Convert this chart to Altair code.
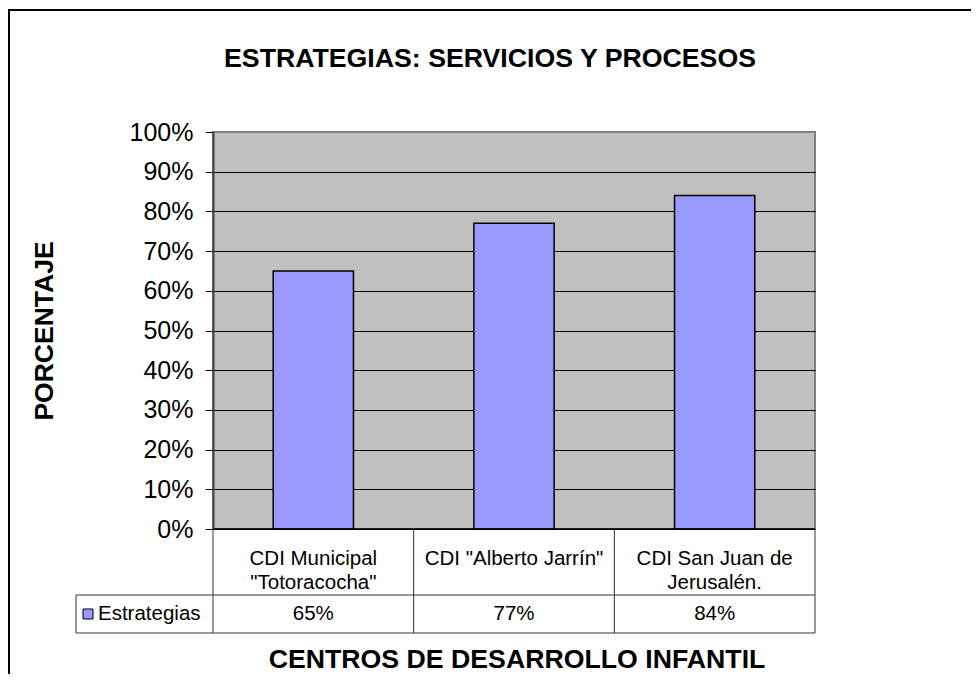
import altair as alt
import pandas as pd

# ---------------- data ----------------
categories = ['CDI Municipal\n"Totoracocha"', 'CDI "Alberto Jarrín"', 'CDI San Juan de\nJerusalén.']
values = [0.65, 0.77, 0.84]
series_name = "Estrategias"
y_ticks = [0.0, 0.1, 0.2, 0.3, 0.4, 0.5, 0.6, 0.7, 0.8, 0.9, 1.0]

title_text = "ESTRATEGIAS: SERVICIOS Y PROCESOS"
x_title = "CENTROS DE DESARROLLO INFANTIL"
y_title = "PORCENTAJE"

# ---------------- style / layout ----------------
FONT = "Liberation Sans"
BAR = "#9999FF"
LINE = "#333333"
W, H = 602, 397
ROW1_TOP, ROW1_BOT, ROW2_BOT = H, H + 66, H + 104
LEG_LEFT = -137

df = pd.DataFrame({"cat": categories, "value": values})
one = pd.DataFrame({"k": [0]})
base = alt.Chart(df)

xscale = alt.Scale(paddingInner=0, paddingOuter=0)
xenc = alt.X("cat:N", sort=categories, axis=None, scale=xscale)

yenc = alt.Y(
    "value:Q",
    scale=alt.Scale(domain=[0, 1], nice=False, zero=True),
    axis=alt.Axis(
        values=y_ticks, format=".0%", grid=True,
        gridColor={"condition": {"test": "datum.value >= 1", "value": "#808080"}, "value": "black"},
        gridWidth=1,
        domainColor="#404040", domainWidth=2,
        tickColor="black", tickSize=8, tickWidth=1,
        labelFont=FONT, labelFontSize=25, labelColor="black", labelPadding=12,
        title=y_title, titleFont=FONT, titleFontSize=26.5, titleFontWeight="bold",
        titleColor="black", titleAngle=270, titleX=-161, titleY=H / 2,
        titleAlign="center", titleBaseline="alphabetic",
    ),
)


def rule(x1, x2, y1, y2, color=LINE, w=1):
    return alt.Chart(one).mark_rule(color=color, strokeWidth=w).encode(
        x=alt.value(x1), x2=alt.value(x2), y=alt.value(y1), y2=alt.value(y2)
    )


frame = alt.Chart(one).mark_rect(filled=False, stroke="black", strokeWidth=2).encode(
    x=alt.value(-204), x2=alt.value(800), y=alt.value(-122), y2=alt.value(620)
)

bars = base.mark_bar(
    fill=BAR, stroke="black", strokeWidth=1.5, width=alt.RelativeBandSize(0.4)
).encode(x=xenc, y=yenc)

# table grid
vlines = base.mark_rule(color=LINE, strokeWidth=1).encode(
    x=alt.X("cat:N", sort=categories, axis=None, scale=xscale, bandPosition=0),
    y=alt.value(ROW1_TOP), y2=alt.value(ROW2_BOT),
)
table_rules = [
    rule(0, W, ROW1_TOP, ROW1_TOP, color="black", w=1.5),
    rule(LEG_LEFT, W, ROW1_BOT, ROW1_BOT),
    rule(LEG_LEFT, W, ROW2_BOT, ROW2_BOT),
    rule(W, W, ROW1_TOP, ROW2_BOT),
    rule(LEG_LEFT, LEG_LEFT, ROW1_BOT, ROW2_BOT),
]

cat_text = base.mark_text(
    font=FONT, fontSize=20.5, lineBreak="\n", lineHeight=24, baseline="middle", color="black"
).encode(x=xenc, y=alt.value(427), text="cat:N")

val_text = base.mark_text(
    font=FONT, fontSize=20.5, baseline="middle", color="black"
).encode(x=xenc, y=alt.value(482), text=alt.Text("value:Q", format=".0%"))

leg_key = alt.Chart(one).mark_rect(fill=BAR, stroke="black", strokeWidth=1).encode(
    x=alt.value(-130), x2=alt.value(-120), y=alt.value(477), y2=alt.value(487)
)
leg_text = alt.Chart(pd.DataFrame({"name": [series_name]})).mark_text(
    font=FONT, fontSize=20.5, align="left", baseline="middle", color="black"
).encode(x=alt.value(-115), y=alt.value(482), text="name:N")

xtitle = alt.Chart(pd.DataFrame({"t": [x_title]})).mark_text(
    font=FONT, fontSize=26.7, fontWeight="bold", align="center", baseline="alphabetic", color="black"
).encode(x=alt.value(304), y=alt.value(536), text="t:N")

main_title = alt.Chart(pd.DataFrame({"t": [title_text]})).mark_text(
    font=FONT, fontSize=26.7, fontWeight="bold", align="center", baseline="alphabetic", color="black"
).encode(x=alt.value(277), y=alt.value(-65), text="t:N")

chart = alt.layer(
    frame, bars, vlines, *table_rules, cat_text, val_text, leg_key, leg_text, xtitle, main_title
).properties(
    width=W, height=H,
    padding={"left": 205, "top": 124, "right": 156, "bottom": 145},
    autosize=alt.AutoSizeParams(type="none"),
    background="white",
).configure_view(fill="#C0C0C0", stroke="#808080", strokeWidth=2)

chart.save("out.html", embed_options={"renderer": "svg", "actions": False})
